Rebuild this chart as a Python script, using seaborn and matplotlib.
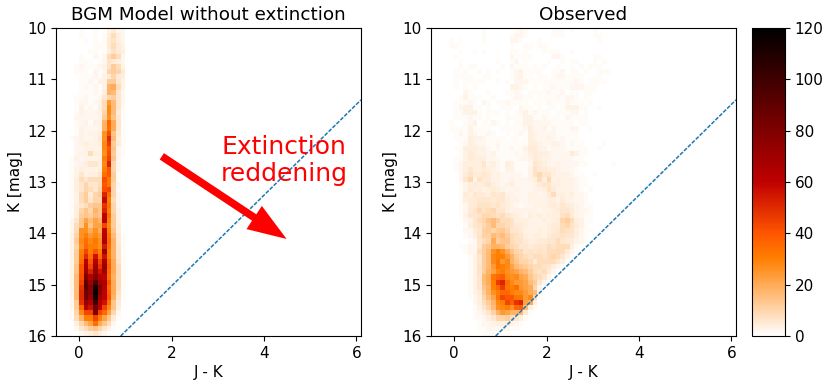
import numpy as np
import pandas as pd
import matplotlib
matplotlib.use('Agg')
import matplotlib.pyplot as plt
import seaborn as sns

# star counts per cell, one row per 0.1 mag from K=10 down to K=16
# model columns start at J-K = -0.2, observed too, steps of 0.1
model_counts = [
    [0,0,1,0,0,1,0,0,3,5,2,2],
    [0,0,1,0,0,1,0,1,4,8,4,2],
    [0,0,0,1,0,1,0,1,5,7,4,2],
    [0,0,0,0,0,1,1,1,5,8,5,3],
    [0,0,0,0,1,1,0,1,4,7,5,4],
    [0,0,1,0,0,2,1,2,8,12,8,2],
    [0,0,1,1,1,0,1,2,7,5,4,2],
    [0,1,2,1,1,1,2,3,7,12,8,3],
    [0,1,1,1,0,2,1,2,10,12,10,5],
    [0,0,1,1,1,2,1,3,5,10,5,4],
    [0,0,1,1,2,1,3,3,12,12,6,3],
    [0,0,1,2,1,2,1,3,18,20,8,3],
    [0,0,1,1,1,2,1,4,18,16,6,2],
    [0,1,1,2,1,1,2,6,10,12,6,2],
    [0,1,2,2,1,2,3,8,24,16,6,2],
    [0,1,3,1,2,1,4,8,28,16,6,1],
    [0,1,3,2,2,2,3,10,28,16,5,1],
    [0,2,2,2,2,2,3,12,26,14,6,1],
    [0,1,2,3,1,3,3,18,36,20,6,1],
    [0,1,3,2,2,2,3,18,34,20,6,1],
    [0,1,3,2,3,3,4,26,42,14,5,1],
    [1,2,3,2,2,3,5,26,50,16,4,1],
    [0,2,3,4,3,3,4,28,46,12,5,1],
    [0,2,2,3,3,3,3,28,40,14,2,1],
    [0,2,3,3,8,4,4,26,42,12,2,1],
    [1,3,2,3,3,3,3,30,44,14,2,0],
    [1,2,3,4,6,6,4,28,52,10,2,0],
    [1,3,4,3,3,3,4,30,40,10,2,0],
    [1,3,6,3,4,4,6,34,40,12,1,0],
    [1,4,8,6,8,8,8,42,32,12,1,0],
    [1,4,6,10,6,6,8,40,32,10,2,0],
    [1,4,6,10,8,6,10,42,44,10,1,0],
    [1,3,8,12,5,10,12,52,36,10,2,0],
    [1,3,8,12,6,10,10,58,30,8,2,0],
    [1,4,6,8,12,14,14,48,34,10,2,0],
    [1,4,10,14,10,18,14,52,30,10,3,0],
    [1,4,12,14,12,16,14,60,34,12,3,0],
    [2,6,14,22,16,22,18,62,30,12,3,0],
    [2,8,14,26,14,22,22,44,28,12,4,0],
    [2,8,26,26,20,26,20,60,30,14,4,0],
    [3,10,26,30,24,28,24,64,34,16,5,1],
    [3,12,28,34,28,32,26,66,36,18,5,1],
    [3,10,26,36,30,30,26,54,34,18,6,1],
    [3,12,30,44,30,40,30,70,30,18,6,1],
    [3,12,32,50,34,56,34,56,30,18,6,1],
    [3,12,34,62,40,64,44,66,36,20,7,1],
    [3,14,40,66,44,70,48,72,38,20,8,1],
    [3,14,40,70,52,72,56,68,36,20,8,1],
    [3,16,42,80,62,78,64,60,34,18,8,1],
    [3,16,44,90,70,96,70,66,40,20,8,1],
    [3,16,48,92,76,112,80,62,36,20,8,1],
    [3,16,50,84,76,118,76,60,38,20,7,1],
    [2,16,50,84,72,112,70,60,40,18,6,1],
    [2,12,48,72,64,100,64,56,34,14,5,0],
    [2,12,36,64,56,84,60,44,28,14,4,0],
    [1,10,28,44,44,80,44,36,22,10,2,0],
    [1,8,18,30,30,44,30,22,14,5,1,0],
    [0,4,10,16,22,34,20,14,8,2,0,0],
    [0,2,6,8,12,14,10,6,3,1,0,0],
    [0,0,2,3,4,6,4,2,1,0,0,0],
]

observed_counts = [
    [0,0,0,0,0,0,0,0,1,0,0,0,0,0,0,1,2,1,0,0,0,0,0,1,1,1,0,1,0,0,0,0,1],
    [0,0,0,0,0,0,0,0,1,0,0,0,0,0,1,2,2,1,0,0,0,0,0,1,1,1,0,0,0,0,0,0,1,1],
    [0,1,0,1,0,0,0,0,1,0,0,0,0,0,2,2,1,0,0,0,1,0,0,0,0,0,0,0,0,0,0,0,0,1],
    [0,1,1,0,0,0,0,0,0,0,0,0,0,0,1,0,0,1,1,0,1,1],
    [0,0,0,1,0,0,1,0,1,0,0,0,0,0,1,1,0,1,0,0,0,1,1,1,1,0,0,1],
    [0,0,1,0,0,0,0,0,0,0,0,0,0,0,2,1,1,1,1,0,0,0,0,2,2,1,0,0,0,0,0,0,1,1],
    [0,0,0,1,0,0,0,0,0,0,0,1,0,0,1,2,0,1,0,0,0,0,1,0,0,1,0,1,1,0,0,0,1,0,1],
    [0,0,0,1,0,1,1,0,0,0,0,0,1,0,2,1,1,1,0,1,0,1,0,0,1,0,0,1,0,1,0,1,1,1],
    [0,0,1,0,1,0,0,1,0,1,0,1,0,0,1,2,3,1,1,1,1,0,0,1,1,2,0,1,1,0,1,0,0,1,1,1],
    [0,0,1,1,1,1,0,0,1,1,0,0,0,0,1,2,3,1,1,0,1,1,0,1,2,2,1,1,1,1,0,0,1,1],
    [0,0,1,0,1,1,1,1,1,0,0,1,0,1,0,2,2,2,1,1,1,1,1,1,1,1,1,1,2,1,0,1,1,1,1],
    [0,0,1,0,1,0,1,0,0,0,0,0,0,0,3,3,2,1,0,1,0,1,1,2,1,1,1,2,2,2,1,1,1],
    [0,0,0,0,2,1,0,0,0,1,0,0,0,1,1,2,1,0,1,1,1,1,2,1,1,2,0,1,1,0,1,1],
    [0,0,0,1,3,1,1,1,0,0,1,0,0,0,1,2,2,1,1,0,1,1,1,1,2,1,2,2,1,0,1],
    [0,0,1,1,1,2,1,0,2,1,0,1,1,2,1,1,1,1,0,1,1,1,2,1,1,1,2,1,1,1,0,1],
    [0,0,1,2,3,3,1,1,0,1,0,0,1,1,1,0,2,1,1,0,1,0,1,1,0,1,3,3,3,1,1,0,0,1],
    [0,0,1,1,3,3,3,1,0,1,1,1,0,1,0,1,2,3,1,2,1,1,1,0,1,1,1,2,2,0,1],
    [0,0,1,1,1,2,1,1,0,1,0,0,0,1,1,1,1,3,3,1,1,2,1,1,1,0,2,1,1,1,1],
    [0,1,0,0,1,2,3,0,1,1,2,1,0,1,0,1,1,3,3,2,2,2,2,1,1,1,1,1,0,1,1],
    [0,1,1,1,1,3,1,1,1,1,0,0,1,1,1,1,1,2,4,2,2,3,1,2,1,1,1,2,2,0,0,1],
    [0,0,1,2,1,3,2,1,1,2,1,0,0,1,0,1,2,1,4,3,2,2,2,2,1,1,1,1,1],
    [0,0,1,1,1,4,3,3,2,1,1,1,1,0,1,1,0,1,4,3,2,2,3,2,1,2,1,1,1],
    [0,0,0,1,2,4,3,2,2,1,1,2,1,1,1,1,1,1,4,4,3,2,2,3,3,2,1,2,1,1,0,0,0,0,1],
    [0,0,1,1,4,4,4,3,3,2,1,2,1,1,2,1,1,3,5,5,3,3,1,2,2,2,1,1,1,1,1,0,0,1],
    [0,0,0,1,3,5,4,3,3,2,3,1,1,1,1,2,1,2,4,5,4,4,3,2,2,2,2,5,3,1,1],
    [0,0,1,1,3,5,4,4,4,2,2,2,1,1,1,1,2,2,3,5,4,3,3,2,2,2,2,2,1,1],
    [0,0,1,2,4,4,4,4,6,3,4,2,1,4,3,1,1,1,2,6,5,4,3,2,3,2,2,2,2,1,1,0,0,0,0,0,1],
    [0,0,1,2,4,6,4,4,5,4,3,2,1,3,3,1,1,1,3,7,5,5,4,4,3,2,2,2,1],
    [0,0,0,2,5,7,5,5,6,5,3,3,2,2,2,2,2,1,3,7,9,6,6,4,3,3,3,2,1,1,0,0,1],
    [0,0,0,2,6,9,3,7,5,5,3,3,2,2,3,2,2,2,3,4,8,4,9,3,4,3,3,3,2,1,1],
    [0,0,0,1,3,4,5,4,5,6,4,3,2,3,4,2,2,2,2,3,5,6,6,4,4,3,3,3,2,1,1],
    [0,0,0,1,3,5,4,4,3,4,5,4,3,2,2,3,2,2,2,3,3,4,7,5,3,3,3,3,2,1,0,1],
    [0,0,0,1,5,4,6,5,5,4,6,5,6,3,3,2,2,2,3,3,2,3,5,8,4,4,3,4,2,2,1],
    [0,0,0,1,4,5,5,6,6,6,5,6,6,4,3,3,2,2,3,3,3,3,4,4,3,5,3,3,2,2,1],
    [0,0,0,1,2,5,5,7,7,7,6,7,5,4,3,2,1,2,2,3,3,3,4,5,4,6,5,4,3,2,1,1],
    [0,0,0,1,2,5,6,9,7,8,9,6,6,4,3,3,3,3,3,3,2,3,3,4,5,6,6,5,3,2,2,1],
    [0,0,0,1,3,6,6,7,9,9,8,7,8,6,5,4,3,2,4,3,4,3,4,4,4,7,8,5,3,2,1,1],
    [0,0,0,0,2,3,6,8,10,14,16,12,8,8,7,4,4,4,3,3,3,4,3,4,5,10,12,8,4,3,1,1],
    [0,0,0,0,1,4,6,7,9,12,16,10,10,8,7,5,5,4,3,3,3,3,4,5,5,8,10,7,5,3,1],
    [0,0,0,0,2,2,5,6,11,12,10,12,13,10,6,6,5,3,3,3,4,3,4,5,6,8,7,7,4,2,1,1],
    [0,0,0,0,1,2,4,7,11,11,16,14,16,12,8,7,6,4,3,4,4,3,5,6,6,7,6,6,4,2,1],
    [0,0,0,0,0,1,2,6,8,10,20,12,14,14,8,7,7,5,4,4,5,5,6,6,8,6,5,5,3,2,1],
    [0,0,0,1,1,2,2,6,12,14,18,18,16,12,10,8,6,6,5,6,6,6,8,7,8,8,8,4,1,1],
    [0,0,0,0,1,2,2,8,12,16,26,30,26,20,14,10,9,6,7,6,7,6,8,8,9,8,5,2,1],
    [0,0,0,0,0,1,3,6,12,16,28,30,30,24,18,12,10,8,7,8,8,7,8,10,8,6,3,1],
    [0,0,0,0,0,1,3,6,12,16,28,32,24,28,18,14,10,10,8,5,8,8,8,8,6,4,1],
    [0,0,0,0,0,1,3,7,12,16,24,32,30,28,22,16,14,12,10,8,8,7,6,4,2,1],
    [0,0,0,0,0,1,3,7,12,18,22,28,30,26,24,22,18,16,12,8,7,8,5,2],
    [0,0,0,0,0,1,3,6,16,20,32,36,38,28,26,28,22,20,14,10,8,6,2],
    [0,0,0,0,0,1,3,6,16,20,30,46,52,34,28,24,24,22,16,12,6,2],
    [0,0,0,0,0,1,3,6,14,18,30,36,46,32,30,34,24,22,20,10,3],
    [0,0,0,0,0,1,3,5,12,18,26,30,36,36,30,28,28,24,20,16,2],
    [0,0,0,0,0,1,2,4,10,16,22,32,44,40,40,32,32,24,28,8,1],
    [0,0,0,0,0,0,2,4,8,12,18,28,30,44,38,48,52,22,20,4],
    [0,0,0,0,0,0,1,3,6,10,16,26,28,30,26,36,38,16,4,1],
    [0,0,0,0,0,0,1,2,4,6,11,18,24,22,18,18,16,6,1],
    [0,0,0,0,0,0,1,1,2,4,6,10,10,12,8,6,4,1],
    [0,0,0,0,0,0,0,1,2,2,3,4,4,5,3,2,1],
    [0,0,0,0,0,0,0,1,1,2,2,2,2,2,1,1],
    [0,0,0,0,0,0,0,0,1,1,1,1,1,1],
]

limit_jk = [0.9, 6.1]
limit_k = [16.0, 11.4]
titles = ['BGM Model without extinction', 'Observed']
color_ticks = [0, 20, 40, 60, 80, 100, 120]


def to_long(rows):
    # cell centres, histplot bins them again with the same 0.1 step
    recs = []
    for i, row in enumerate(rows):
        for j, n in enumerate(row):
            recs.append((-0.2 + 0.1 * j + 0.05, 10 + 0.1 * i + 0.05, n))
    return pd.DataFrame(recs, columns=['jk', 'k', 'n'])


plt.rcParams['font.size'] = 11

W, H = 830, 388
fig = plt.figure(figsize=(W / 100, H / 100), dpi=100)
ax1 = fig.add_axes([56 / W, 1 - 336 / H, 305 / W, 308 / H])
ax2 = fig.add_axes([431 / W, 1 - 336 / H, 305 / W, 308 / H])
cax = fig.add_axes([752 / W, 1 - 336 / H, 33 / W, 308 / H])

panels = [(ax1, model_counts, titles[0]), (ax2, observed_counts, titles[1])]
for ax, rows, title in panels:
    df = to_long(rows)
    sns.histplot(data=df, x='jk', y='k', weights='n', binwidth=0.1,
                 binrange=((-0.2, 3.6), (10, 16)), cmap='gist_heat_r',
                 vmin=0, vmax=120, cbar=ax is ax2,
                 cbar_ax=cax if ax is ax2 else None, ax=ax)
    sns.lineplot(x=limit_jk, y=limit_k, linestyle=(0, (2.6, 1)), linewidth=1.1,
                 color='tab:blue', sort=False, ax=ax)
    ax.set_xlim(-0.5, 6.1)
    ax.set_ylim(16, 10)
    ax.set_xticks([0, 2, 4, 6])
    ax.set_xlabel('J - K', labelpad=3)
    ax.set_ylabel('K [mag]', labelpad=3)
    ax.set_title(title, fontsize=13.2, pad=6)

cax.set_yticks(color_ticks)

ax1.annotate('', xy=(4.49, 14.11), xytext=(1.79, 12.5),
             arrowprops=dict(facecolor='red', edgecolor='red', width=5.5,
                             headwidth=20, headlength=28, shrink=0, linewidth=0))
ax1.text(4.43, 12.58, 'Extinction\nreddening', color='red', fontsize=18,
         ha='center', va='center', linespacing=1.12)

fig.savefig('out.png', dpi=100)
